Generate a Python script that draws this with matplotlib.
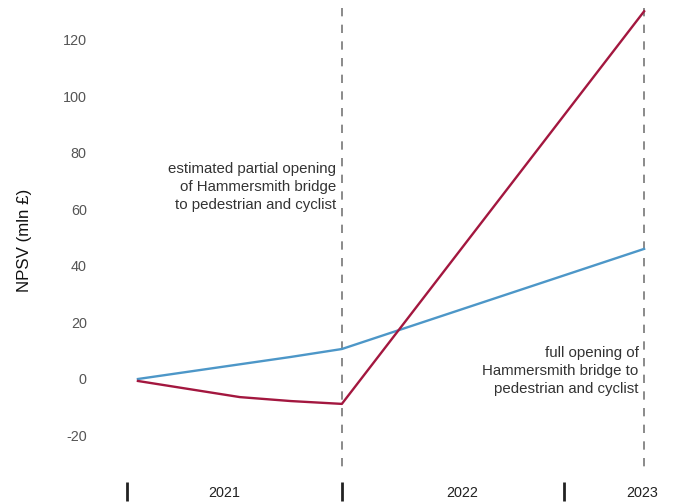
import numpy as np
import matplotlib
matplotlib.use('Agg')
import matplotlib.pyplot as plt

# months since Jan 2021
months = [0.6, 6.2, 9.0, 11.8, 28.4]
blue_vals = [0.0, 5.2, 7.8, 10.6, 46.0]
red_vals = [-0.7, -6.4, -7.8, -8.8, 130.0]
year_labels = ['2021', '2022', '2023']
year_label_pos = [5.35, 18.4, 28.3]
year_ticks = [0, 11.8, 24]
y_ticks = [-20, 0, 20, 40, 60, 80, 100, 120]
events = [11.8, 28.4]

plt.rcParams['font.family'] = ['Liberation Sans', 'DejaVu Sans']

fig = plt.figure(figsize=(6.73, 5.03), dpi=100)
W, H = 673, 503
left, right, top, bottom = 120, 660, 8, 501
ax = fig.add_axes([left / W, 1 - bottom / H, (right - left) / W, (bottom - top) / H])

px_per_month = (564 - 127) / 24
ax.set_xlim((left - 127) / px_per_month, (right - 127) / px_per_month)
px_per_unit = (436 - 40) / 140
ax.set_ylim((379 - bottom) / px_per_unit, (379 - top) / px_per_unit)
ymin, ymax = ax.get_ylim()

blue = '#4d97c8'
red = '#a3173f'

# dashed event markers, drawn top-down so the dash pattern starts at the top
for x in events:
    ax.plot([x, x], [ymax, (379 - 473) / px_per_unit], color='#777777',
            linestyle=(0, (5, 5)), linewidth=1.2)

ax.plot(months, blue_vals, color=blue, linewidth=1.7)
ax.plot(months, red_vals, color=red, linewidth=1.7)

for s in ax.spines.values():
    s.set_visible(False)

ax.set_yticks(y_ticks)
ax.set_yticklabels([str(v) for v in y_ticks])
ax.tick_params(axis='y', length=0, pad=24, labelsize=10.4, labelcolor='#555555')

ax.set_xticks(year_ticks)
ax.set_xticklabels([])
ax.tick_params(axis='x', direction='in', length=13.5, width=2, color='#222222')

for lab, xp in zip(year_labels, year_label_pos):
    ax.text(xp, (379 - 493) / px_per_unit, lab, ha='center', va='center',
            fontsize=10.4, color='#222222')

ax.text(events[0] - 0.3, (379 - 187) / px_per_unit,
        'estimated partial opening\nof Hammersmith bridge\nto pedestrian and cyclist',
        ha='right', va='center', fontsize=10.8, color='#333333', linespacing=1.33)
ax.text(events[1] - 0.3, (379 - 371) / px_per_unit,
        'full opening of\nHammersmith bridge to\npedestrian and cyclist',
        ha='right', va='center', fontsize=10.8, color='#333333', linespacing=1.33)

fig.text(25 / W, 1 - 240 / H, 'NPSV (mln £)', rotation=90, ha='center', va='center',
         fontsize=12.2, color='#111111')

plt.savefig('out.png', dpi=100)
plt.close()
